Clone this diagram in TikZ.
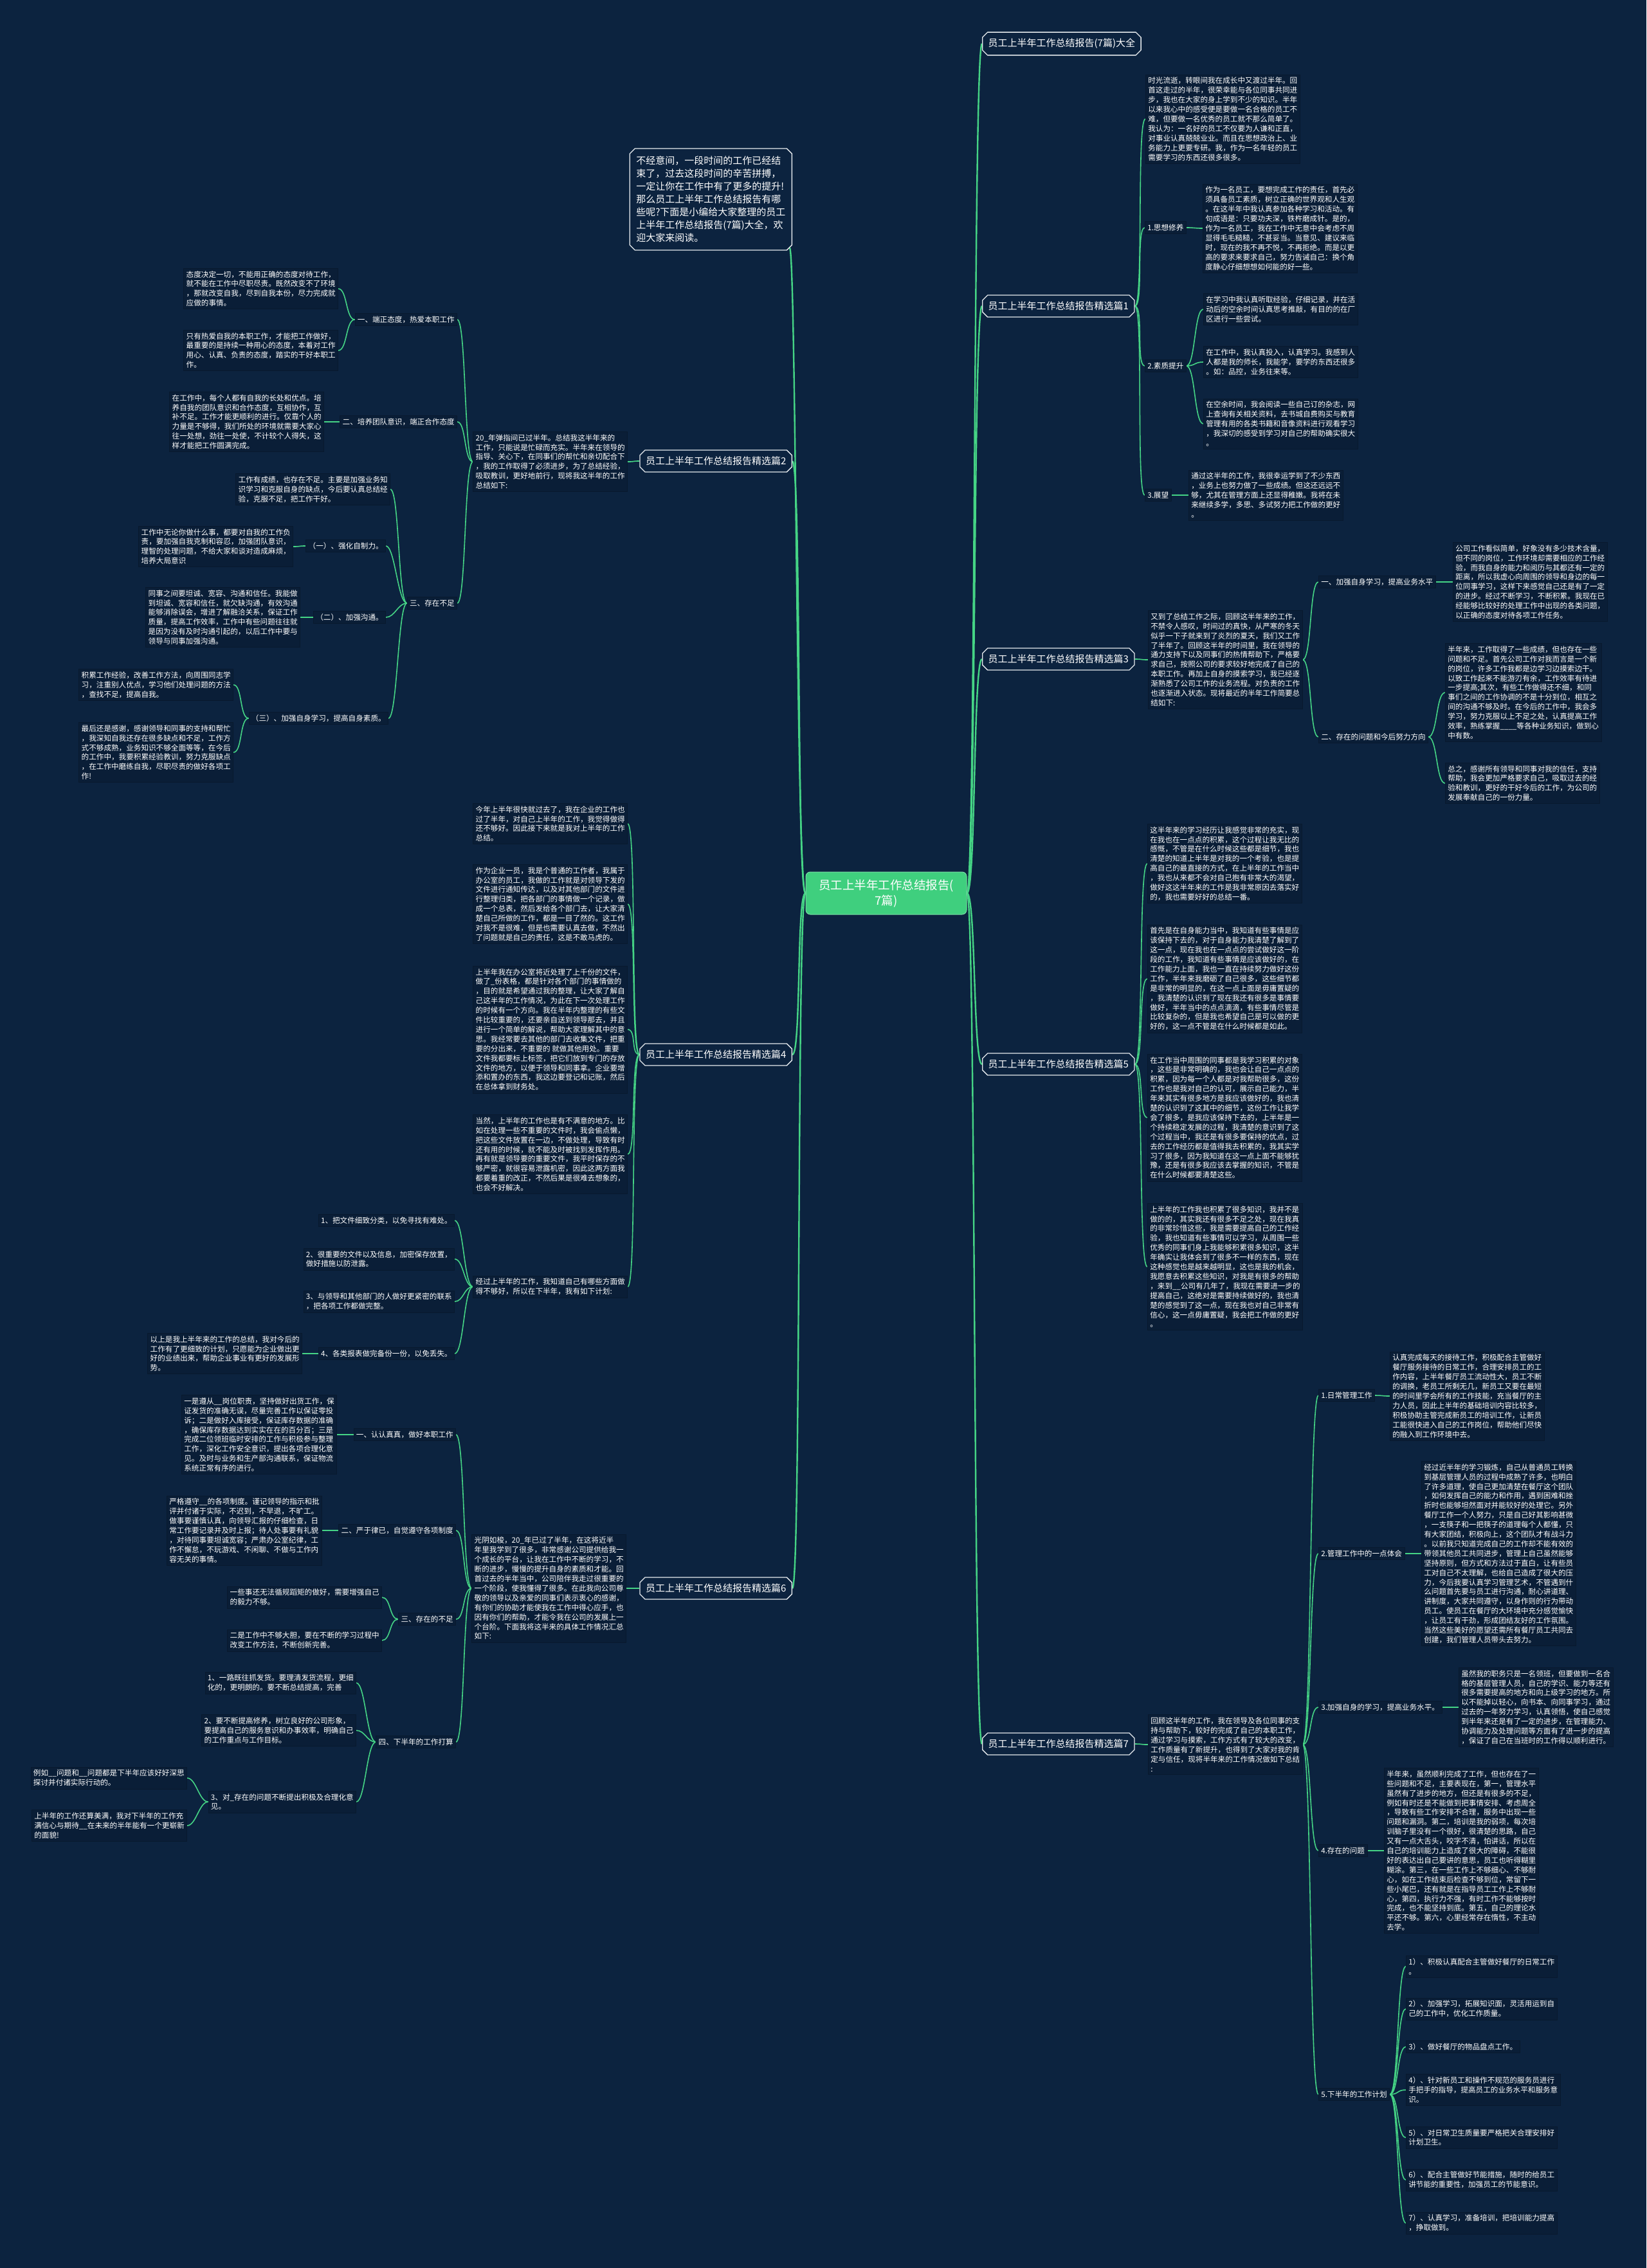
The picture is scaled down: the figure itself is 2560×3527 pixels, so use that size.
\documentclass[tikz,border=0pt]{standalone}
\usepackage{fontspec}
\setmainfont{Noto Sans CJK SC}
\usetikzlibrary{shapes.misc}
\definecolor{bg}{HTML}{0C233F}
\definecolor{boxbg}{HTML}{0A1E37}
\definecolor{boxln}{HTML}{08192E}
\definecolor{gr}{HTML}{45D485}
\definecolor{ctrfill}{HTML}{3FCF7E}
\definecolor{brline}{HTML}{E6EAEE}
\newcommand\fsS{\fontsize{11.6}{14.9}\selectfont}
\newcommand\fsB{\fontsize{15}{18}\selectfont}
\newcommand\fsI{\fontsize{15}{20}\selectfont}
\newcommand\fsC{\fontsize{18.5}{24}\selectfont}
\newcommand\cR[3][con]{\draw[#1] (#2.east) .. controls +(14,0) and +(-14,0) .. (#3.west);}
\newcommand\cL[3][con]{\draw[#1] (#2.west) .. controls +(-14,0) and +(14,0) .. (#3.east);}
\pgfdeclarelayer{back}
\pgfdeclarelayer{edges}
\pgfsetlayers{back,edges,main}
\begin{document}
\begin{tikzpicture}[x=1pt,y=-1pt,
  bx/.style={fill=boxbg,draw=boxln,line width=0.6pt,text=white,font=\fsS,inner sep=4pt,align=left},
  brn/.style={chamfered rectangle,chamfered rectangle xsep=4pt,chamfered rectangle ysep=4pt,draw=brline,line width=1.3pt,fill=bg,text=white,font=\fsB,inner xsep=5pt,inner ysep=6pt},
  intro/.style={brn,font=\fsI,align=left,inner xsep=6pt,inner ysep=8pt},
  ctr/.style={rounded corners=7pt,fill=ctrfill,draw=ctrfill!70!white,line width=1pt,text=white,font=\fsC,align=center,minimum width=250pt,minimum height=66pt},
  con/.style={draw=gr,line width=1.6pt},
  spine/.style={draw=gr,line width=2.4pt}]
\begin{pgfonlayer}{back}
\fill[bg] (0,0) rectangle (2560,3527);
\end{pgfonlayer}
\useasboundingbox (0,0) rectangle (2560,3527);

% center
\node[ctr] (c) at (1378,1389) {员工上半年工作总结报告(\\7篇)};

% ================= RIGHT SIDE =================
\node[brn,anchor=west] (r0) at (1527,68) {员工上半年工作总结报告(7篇)大全};
\node[brn,anchor=west] (r1) at (1527,476) {员工上半年工作总结报告精选篇1};
\node[brn,anchor=west] (r3) at (1527,1025) {员工上半年工作总结报告精选篇3};
\node[brn,anchor=west] (r5) at (1527,1655) {员工上半年工作总结报告精选篇5};
\node[brn,anchor=west] (r7) at (1527,2712) {员工上半年工作总结报告精选篇7};

% --- 篇1
\node[bx,anchor=west] (r1a) at (1781,185) {时光流逝，转眼间我在成长中又渡过半年。回\\首这走过的半年，很荣幸能与各位同事共同进\\步，我也在大家的身上学到不少的知识。半年\\以来我心中的感受便是要做一名合格的员工不\\难，但要做一名优秀的员工就不那么简单了。\\我认为：一名好的员工不仅要为人谦和正直，\\对事业认真兢兢业业。而且在思想政治上、业\\务能力上更要专研。我，作为一名年轻的员工\\需要学习的东西还很多很多。};
\node[bx,anchor=west] (r1b) at (1780,354) {1.思想修养};
\node[bx,anchor=west] (r1b1) at (1870,355) {作为一名员工，要想完成工作的责任，首先必\\须具备员工素质，树立正确的世界观和人生观\\。在这半年中我认真参加各种学习和活动。有\\句成语是：只要功夫深，铁杵磨成针。是的，\\作为一名员工，我在工作中无意中会考虑不周\\显得毛毛糙糙，不甚妥当。当意见、建议来临\\时，现在的我不再不悦，不再拒绝。而是以更\\高的要求来要求自己，努力告诫自己：换个角\\度静心仔细想想如何能的好一些。};
\node[bx,anchor=west] (r1c) at (1780,569) {2.素质提升};
\node[bx,anchor=west] (r1c1) at (1871,481) {在学习中我认真听取经验，仔细记录，并在活\\动后的空余时间认真思考推敲，有目的的在厂\\区进行一些尝试。};
\node[bx,anchor=west] (r1c2) at (1871,563) {在工作中，我认真投入，认真学习。我感到人\\人都是我的师长，我能学，要学的东西还很多\\。如：品控，业务往来等。};
\node[bx,anchor=west] (r1c3) at (1871,659) {在空余时间，我会阅读一些自己订的杂志，网\\上查询有关相关资料，去书城自费购买与教育\\管理有用的各类书籍和音像资料进行观看学习\\，我深切的感受到学习对自己的帮助确实很大\\。};
\node[bx,anchor=west] (r1d) at (1780,770) {3.展望};
\node[bx,anchor=west] (r1d1) at (1848,770) {通过这半年的工作，我很幸运学到了不少东西\\，业务上也努力做了一些成绩。但这还远远不\\够，尤其在管理方面上还显得稚嫩。我将在未\\来继续多学，多思、多试努力把工作做的更好\\。};

% --- 篇3
\node[bx,anchor=west] (r3p) at (1785,1026) {又到了总结工作之际，回顾这半年来的工作，\\不禁令人感叹，时间过的真快，从严寒的冬天\\似乎一下子就来到了炎烈的夏天，我们又工作\\了半年了。回顾这半年的时间里，我在领导的\\通力支持下以及同事们的热情帮助下，严格要\\求自己，按照公司的要求较好地完成了自己的\\本职工作。再加上自身的摸索学习，我已经逐\\渐熟悉了公司工作的业务流程。对负责的工作\\也逐渐进入状态。现将最近的半年工作简要总\\结如下:};
\node[bx,anchor=west] (r3a) at (2050,905) {一、加强自身学习，提高业务水平};
\node[bx,anchor=west] (r3a1) at (2259,905) {公司工作看似简单，好象没有多少技术含量，\\但不同的岗位，工作环境却需要相应的工作经\\验，而我自身的能力和阅历与其都还有一定的\\距离，所以我虚心向周围的领导和身边的每一\\位同事学习，这样下来感觉自己还是有了一定\\的进步。经过不断学习，不断积累。我现在已\\经能够比较好的处理工作中出现的各类问题，\\以正确的态度对待各项工作任务。};
\node[bx,anchor=west] (r3b) at (2050,1146) {二、存在的问题和今后努力方向};
\node[bx,anchor=west] (r3b1) at (2247,1077) {半年来，工作取得了一些成绩，但也存在一些\\问题和不足。首先公司工作对我而言是一个新\\的岗位，许多工作我都是边学习边摸索边干。\\以致工作起来不能游刃有余，工作效率有待进\\一步提高;其次，有些工作做得还不细，和同\\事们之间的工作协调的不是十分到位，相互之\\间的沟通不够及时。在今后的工作中，我会多\\学习，努力克服以上不足之处，认真提高工作\\效率，熟练掌握\_\_\_\_等各种业务知识，做到心\\中有数。};
\node[bx,anchor=west] (r3b2) at (2247,1218) {总之，感谢所有领导和同事对我的信任，支持\\帮助，我会更加严格要求自己，吸取过去的经\\验和教训，更好的干好今后的工作，为公司的\\发展奉献自己的一份力量。};

% --- 篇5
\node[bx,anchor=west] (r5a) at (1784,1343) {这半年来的学习经历让我感觉非常的充实，现\\在我也在一点点的积累，这个过程让我无比的\\感慨，不管是在什么时候这些都是细节，我也\\清楚的知道上半年是对我的一个考验，也是提\\高自己的最直接的方式，在上半年的工作当中\\，我也从来都不会对自己抱有非常大的渴望，\\做好这这半年来的工作是我非常原因去落实好\\的，我也需要好好的总结一番。};
\node[bx,anchor=west] (r5b) at (1784,1522) {首先是在自身能力当中，我知道有些事情是应\\该保持下去的，对于自身能力我清楚了解到了\\这一点，现在我也在一点点的尝试做好这一阶\\段的工作，我知道有些事情是应该做好的，在\\工作能力上面，我也一直在持续努力做好这份\\工作，半年来我磨砺了自己很多，这些细节都\\是非常的明显的，在这一点上面是毋庸置疑的\\，我清楚的认识到了现在我还有很多是事情要\\做好，半年当中的点点滴滴，有些事情尽管是\\比较复杂的，但是我也希望自己是可以做的更\\好的，这一点不管是在什么时候都是如此。};
\node[bx,anchor=west] (r5c) at (1784,1738) {在工作当中周围的同事都是我学习积累的对象\\，这些是非常明确的，我也会让自己一点点的\\积累，因为每一个人都是对我帮助很多，这份\\工作也是我对自己的认可，展示自己能力，半\\年来其实有很多地方是我应该做好的，我也清\\楚的认识到了这其中的细节，这份工作让我学\\会了很多，是我应该保持下去的，上半年是一\\个持续稳定发展的过程，我清楚的意识到了这\\个过程当中，我还是有很多要保持的优点，过\\去的工作经历都是值得我去积累的，我其实学\\习了很多，因为我知道在这一点上面不能够犹\\豫，还是有很多我应该去掌握的知识，不管是\\在什么时候都要清楚这些。};
\node[bx,anchor=west] (r5d) at (1784,1970) {上半年的工作我也积累了很多知识，我并不是\\做的的，其实我还有很多不足之处，现在我真\\的非常珍惜这些，我是需要提高自己的工作经\\验，我也知道有些事情可以学习，从周围一些\\优秀的同事们身上我能够积累很多知识，这半\\年确实让我体会到了很多不一样的东西，现在\\这种感觉也是越来越明显，这也是我的机会，\\我愿意去积累这些知识，对我是有很多的帮助\\，来到\_\_公司有几年了，我现在需要进一步的\\提高自己，这绝对是需要持续做好的，我也清\\楚的感觉到了这一点，现在我也对自己非常有\\信心，这一点毋庸置疑，我会把工作做的更好\\。};

% --- 篇7
\node[bx,anchor=west] (r7p) at (1785,2713) {回顾这半年的工作，我在领导及各位同事的支\\持与帮助下，较好的完成了自己的本职工作，\\通过学习与摸索，工作方式有了较大的改变，\\工作质量有了新提升，也得到了大家对我的肯\\定与信任，现将半年来的工作情况做如下总结\\:};
\node[bx,anchor=west] (r7a) at (2050,2170) {1.日常管理工作};
\node[bx,anchor=west] (r7a1) at (2161,2171) {认真完成每天的接待工作，积极配合主管做好\\餐厅服务接待的日常工作，合理安排员工的工\\作内容，上半年餐厅员工流动性大，员工不断\\的调换，老员工所剩无几，新员工又要在最短\\的时间里学会所有的工作技能，充当餐厅的主\\力人员，因此上半年的基础培训内容比较多，\\积极协助主管完成新员工的培训工作，让新员\\工能很快进入自己的工作岗位，帮助他们尽快\\的融入到工作环境中去。};
\node[bx,anchor=west] (r7b) at (2050,2416) {2.管理工作中的一点体会};
\node[bx,anchor=west] (r7b1) at (2210,2416) {经过近半年的学习锻炼，自己从普通员工转换\\到基层管理人员的过程中成熟了许多，也明白\\了许多道理，使自己更加清楚在餐厅这个团队\\，如何发挥自己的能力和作用，遇到困难和挫\\折时也能够坦然面对并能较好的处理它。另外\\餐厅工作一个人努力，只是自己好其影响甚微\\，一支筷子和一把筷子的道理每个人都懂，只\\有大家团结，积极向上，这个团队才有战斗力\\。以前我只知道完成自己的工作却不能有效的\\带领其他员工共同进步，管理上自己虽然能够\\坚持原则，但方式和方法过于直白，让有些员\\工对自己不太理解，也给自己造成了很大的压\\力，今后我要认真学习管理艺术，不管遇到什\\么问题首先要与员工进行沟通，耐心讲道理、\\讲制度，大家共同遵守，以身作则的行为带动\\员工。使员工在餐厅的大环境中充分感觉愉快\\，让员工有干劲，形成团结友好的工作氛围。\\当然这些美好的愿望还需所有餐厅员工共同去\\创建，我们管理人员带头去努力。};
\node[bx,anchor=west] (r7c) at (2050,2655) {3.加强自身的学习，提高业务水平。};
\node[bx,anchor=west] (r7c1) at (2268,2655) {虽然我的职务只是一名领班，但要做到一名合\\格的基层管理人员，自己的学识、能力等还有\\很多需要提高的地方和向上级学习的地方。所\\以不能掉以轻心，向书本、向同事学习，通过\\过去的一年努力学习，认真领悟，使自己感觉\\到半年来还是有了一定的进步，在管理能力、\\协调能力及处理问题等方面有了进一步的提高\\，保证了自己在当班时的工作得以顺利进行。};
\node[bx,anchor=west] (r7d) at (2050,2878) {4.存在的问题};
\node[bx,anchor=west] (r7d1) at (2152,2878) {半年来，虽然顺利完成了工作，但也存在了一\\些问题和不足，主要表现在，第一，管理水平\\虽然有了进步的地方，但还是有很多的不足，\\例如有时还是不能做到把事情安排、考虑周全\\，导致有些工作安排不合理，服务中出现一些\\问题和漏洞。第二，培训是我的弱项，每次培\\训脑子里没有一个很好，很清楚的思路，自己\\又有一点大舌头，咬字不清，怕讲话，所以在\\自己的培训能力上造成了很大的障碍，不能很\\好的表达出自己要讲的意思，员工也听得糊里\\糊涂。第三，在一些工作上不够细心、不够耐\\心，如在工作结束后检查不够到位，常留下一\\些小尾巴，还有就是在指导员工工作上不够耐\\心，第四，执行力不强，有时工作不能够按时\\完成，也不能坚持到底。第五，自己的理论水\\平还不够。第六，心里经常存在惰性，不主动\\去学。};
\node[bx,anchor=west] (r7e) at (2050,3257) {5.下半年的工作计划};
\node[bx,anchor=west] (e1) at (2186,3058) {1）、积极认真配合主管做好餐厅的日常工作\\。};
\node[bx,anchor=west] (e2) at (2186,3124) {2）、加强学习，拓展知识面，灵活用运到自\\己的工作中，优化工作质量。};
\node[bx,anchor=west] (e3) at (2186,3183) {3）、做好餐厅的物品盘点工作。};
\node[bx,anchor=west] (e4) at (2186,3250) {4）、针对新员工和操作不规范的服务员进行\\手把手的指导，提高员工的业务水平和服务意\\识。};
\node[bx,anchor=west] (e5) at (2186,3324) {5）、对日常卫生质量要严格把关合理安排好\\计划卫生。};
\node[bx,anchor=west] (e6) at (2186,3390) {6）、配合主管做好节能措施，随时的给员工\\讲节能的重要性，加强员工的节能意识。};
\node[bx,anchor=west] (e7) at (2186,3457) {7）、认真学习，准备培训，把培训能力提高\\，挣取做到。};

% ================= LEFT SIDE =================
\node[intro,anchor=east] (in) at (1232,310) {不经意间，一段时间的工作已经结\\束了，过去这段时间的辛苦拼搏，\\一定让你在工作中有了更多的提升!\\那么员工上半年工作总结报告有哪\\些呢?下面是小编给大家整理的员工\\上半年工作总结报告(7篇)大全，欢\\迎大家来阅读。};
\node[brn,anchor=east] (r2) at (1232,717) {员工上半年工作总结报告精选篇2};
\node[brn,anchor=east] (r4) at (1232,1640) {员工上半年工作总结报告精选篇4};
\node[brn,anchor=east] (r6) at (1232,2470) {员工上半年工作总结报告精选篇6};

% --- 篇2
\node[bx,anchor=east] (r2p) at (976,718) {20\_年弹指间已过半年。总结我这半年来的\\工作，只能说是忙碌而充实。半年来在领导的\\指导、关心下，在同事们的帮忙和亲切配合下\\，我的工作取得了必须进步，为了总结经验，\\吸取教训，更好地前行，现将我这半年的工作\\总结如下:};
\node[bx,anchor=east] (r2a) at (711,497) {一、端正态度，热爱本职工作};
\node[bx,anchor=east] (r2a1) at (526,449) {态度决定一切，不能用正确的态度对待工作，\\就不能在工作中尽职尽责。既然改变不了环境\\，那就改变自我，尽到自我本份，尽力完成就\\应做的事情。};
\node[bx,anchor=east] (r2a2) at (526,545) {只有热爱自我的本职工作，才能把工作做好，\\最重要的是持续一种用心的态度，本着对工作\\用心、认真、负责的态度，踏实的干好本职工\\作。};
\node[bx,anchor=east] (r2b) at (711,656) {二、培养团队意识，端正合作态度};
\node[bx,anchor=east] (r2b1) at (504,656) {在工作中，每个人都有自我的长处和优点。培\\养自我的团队意识和合作态度，互相协作，互\\补不足。工作才能更顺利的进行。仅靠个人的\\力量是不够得，我们所处的环境就需要大家心\\往一处想，劲往一处使，不计较个人得失，这\\样才能把工作圆满完成。};
\node[bx,anchor=east] (r2c) at (711,938) {三、存在不足};
\node[bx,anchor=east] (r2c1) at (607,761) {工作有成绩，也存在不足。主要是加强业务知\\识学习和克服自身的缺点，今后要认真总结经\\验，克服不足，把工作干好。};
\node[bx,anchor=east] (r2c2) at (600,849) {（一）、强化自制力。};
\node[bx,anchor=east] (r2c2a) at (456,850) {工作中无论你做什么事，都要对自我的工作负\\责，要加强自我克制和容忍，加强团队意识，\\理智的处理问题，不给大家和谈对造成麻烦，\\培养大局意识};
\node[bx,anchor=east] (r2c3) at (600,960) {（二）、加强沟通。};
\node[bx,anchor=east] (r2c3a) at (467,960) {同事之间要坦诚、宽容、沟通和信任。我能做\\到坦诚、宽容和信任，就欠缺沟通，有效沟通\\能够消除误会，增进了解融洽关系，保证工作\\质量，提高工作效率，工作中有些问题往往就\\是因为没有及时沟通引起的，以后工作中要与\\领导与同事加强沟通。};
\node[bx,anchor=east] (r2c4) at (604,1117) {（三）、加强自身学习，提高自身素质。};
\node[bx,anchor=east] (r2c4a) at (363,1065) {积累工作经验，改善工作方法，向周围同志学\\习，注重别人优点，学习他们处理问题的方法\\，查找不足，提高自我。};
\node[bx,anchor=east] (r2c4b) at (363,1170) {最后还是感谢，感谢领导和同事的支持和帮忙\\，我深知自我还存在很多缺点和不足，工作方\\式不够成熟，业务知识不够全面等等，在今后\\的工作中，我要积累经验教训，努力克服缺点\\，在工作中磨练自我，尽职尽责的做好各项工\\作!};

% --- 篇4
\node[bx,anchor=east] (r4a) at (976,1281) {今年上半年很快就过去了，我在企业的工作也\\过了半年，对自己上半年的工作，我觉得做得\\还不够好。因此接下来就是我对上半年的工作\\总结。};
\node[bx,anchor=east] (r4b) at (976,1406) {作为企业一员，我是个普通的工作者，我属于\\办公室的员工，我做的工作就是对领导下发的\\文件进行通知传达，以及对其他部门的文件进\\行整理归类，把各部门的事情做一个记录，做\\成一个总表，然后发给各个部门去，让大家清\\楚自己所做的工作，都是一目了然的。这工作\\对我不是很难，但是也需要认真去做，不然出\\了问题就是自己的责任，这是不敢马虎的。};
\node[bx,anchor=east] (r4c) at (976,1601) {上半年我在办公室将近处理了上千份的文件，\\做了\_份表格，都是针对各个部门的事情做的\\，目的就是希望通过我的整理，让大家了解自\\己这半年的工作情况，为此在下一次处理工作\\的时候有一个方向。我在半年内整理的有些文\\件比较重要的，还要亲自送到领导那去，并且\\进行一个简单的解说，帮助大家理解其中的意\\思。我经常要去其他的部门去收集文件，把重\\要的分出来，不重要的 就做其他用处。重要\\文件我都要标上标签，把它们放到专门的存放\\文件的地方，以便于领导和同事拿。企业要增\\添和置办的东西，我这边要登记和记账，然后\\在总体拿到财务处。};
\node[bx,anchor=east] (r4d) at (976,1795) {当然，上半年的工作也是有不满意的地方。比\\如在处理一些不重要的文件时，我会偷点懒，\\把这些文件放置在一边，不做处理，导致有时\\还有用的时候，就不能及时被找到发挥作用。\\再有就是领导要的重要文件，我平时保存的不\\够严密，就很容易泄露机密，因此这两方面我\\都要着重的改正，不然后果是很难去想象的，\\也会不好解决。};
\node[bx,anchor=east] (r4e) at (976,2001) {经过上半年的工作，我知道自己有哪些方面做\\得不够好，所以在下半年，我有如下计划:};
\node[bx,anchor=east] (r4e1) at (707,1898) {1、把文件细致分类，以免寻找有难处。};
\node[bx,anchor=east] (r4e2) at (707,1958) {2、很重要的文件以及信息，加密保存放置，\\做好措施以防泄露。};
\node[bx,anchor=east] (r4e3) at (707,2024) {3、与领导和其他部门的人做好更紧密的联系\\，把各项工作都做完整。};
\node[bx,anchor=east] (r4e4) at (707,2105) {4、各类报表做完备份一份，以免丢失。};
\node[bx,anchor=east] (r4e4a) at (470,2105) {以上是我上半年来的工作的总结，我对今后的\\工作有了更细致的计划，只愿能为企业做出更\\好的业绩出来，帮助企业事业有更好的发展形\\势。};

% --- 篇6
\node[bx,anchor=east] (r6p) at (974,2470) {光阴如梭，20\_年已过了半年，在这将近半\\年里我学到了很多，非常感谢公司提供给我一\\个成长的平台，让我在工作中不断的学习，不\\断的进步，慢慢的提升自身的素质和才能。回\\首过去的半年当中，公司陪伴我走过很重要的\\一个阶段，使我懂得了很多。在此我向公司尊\\敬的领导以及亲爱的同事们表示衷心的感谢，\\有你们的协助才能使我在工作中得心应手，也\\因有你们的帮助，才能令我在公司的发展上一\\个台阶。下面我将这半来的具体工作情况汇总\\如下:};
\node[bx,anchor=east] (r6a) at (709,2231) {一、认认真真，做好本职工作};
\node[bx,anchor=east] (r6a1) at (524,2231) {一是遵从\_\_岗位职责，坚持做好出货工作，保\\证发货的准确无误，尽量完善工作以保证零投\\诉；二是做好入库接受，保证库存数据的准确\\，确保库存数据达到实实在在的百分百；三是\\完成二位领班临时安排的工作与积极参与整理\\工作，深化工作安全意识，提出各项合理化意\\见。及时与业务和生产部沟通联系，保证物流\\系统正常有序的进行。};
\node[bx,anchor=east] (r6b) at (709,2380) {二、严于律已，自觉遵守各项制度};
\node[bx,anchor=east] (r6b1) at (501,2380) {严格遵守\_\_的各项制度。谨记领导的指示和批\\评并付诸于实际，不迟到，不早退，不旷工。\\做事要谨慎认真，向领导汇报的仔细检查，日\\常工作要记录并及时上报；待人处事要有礼貌\\，对待同事要坦诚宽容；严肃办公室纪律，工\\作不懈怠，不玩游戏、不闲聊、不做与工作内\\容无关的事情。};
\node[bx,anchor=east] (r6c) at (709,2518) {三、存在的不足};
\node[bx,anchor=east] (r6c1) at (594,2484) {一些事还无法循规蹈矩的做好，需要增强自己\\的毅力不够。};
\node[bx,anchor=east] (r6c2) at (594,2551) {二是工作中不够大胆，要在不断的学习过程中\\改变工作方法，不断创新完善。};
\node[bx,anchor=east] (r6d) at (709,2709) {四、下半年的工作打算};
\node[bx,anchor=east] (r6d1) at (554,2617) {1、一路既往抓发货。要理清发货流程，更细\\化的，更明朗的。要不断总结提高，完善};
\node[bx,anchor=east] (r6d2) at (554,2691) {2、要不断提高修养，树立良好的公司形象，\\要提高自己的服务意识和办事效率，明确自己\\的工作重点与工作目标。};
\node[bx,anchor=east] (r6d3) at (554,2802) {3、对\_存在的问题不断提出积极及合理化意\\见。};
\node[bx,anchor=east] (r6d3a) at (291,2765) {例如\_\_问题和\_\_问题都是下半年应该好好深思\\探讨并付诸实际行动的。};
\node[bx,anchor=east] (r6d3b) at (291,2839) {上半年的工作还算美满，我对下半年的工作充\\满信心与期待\_\_在未来的半年能有一个更崭新\\的面貌!};

% ================= CONNECTORS =================
\begin{pgfonlayer}{edges}
\cR[spine]{c}{r0}\cR[spine]{c}{r1}\cR[spine]{c}{r3}\cR[spine]{c}{r5}\cR[spine]{c}{r7}
\draw[spine] (c.west) .. controls +(-14,0) and +(10,0) .. (in.south east);
\cL[spine]{c}{r2}\cL[spine]{c}{r4}\cL[spine]{c}{r6}
% 1
\cR{r1}{r1a}\cR{r1}{r1b}\cR{r1}{r1c}\cR{r1}{r1d}
\cR{r1b}{r1b1}\cR{r1c}{r1c1}\cR{r1c}{r1c2}\cR{r1c}{r1c3}\cR{r1d}{r1d1}
% 3
\cR{r3}{r3p}\cR{r3p}{r3a}\cR{r3p}{r3b}\cR{r3a}{r3a1}\cR{r3b}{r3b1}\cR{r3b}{r3b2}
% 5
\cR{r5}{r5a}\cR{r5}{r5b}\cR{r5}{r5c}\cR{r5}{r5d}
% 7
\cR{r7}{r7p}\cR{r7p}{r7a}\cR{r7p}{r7b}\cR{r7p}{r7c}\cR{r7p}{r7d}\cR{r7p}{r7e}
\cR{r7a}{r7a1}\cR{r7b}{r7b1}\cR{r7c}{r7c1}\cR{r7d}{r7d1}
\cR{r7e}{e1}\cR{r7e}{e2}\cR{r7e}{e3}\cR{r7e}{e4}\cR{r7e}{e5}\cR{r7e}{e6}\cR{r7e}{e7}
% 2
\cL{r2}{r2p}\cL{r2p}{r2a}\cL{r2p}{r2b}\cL{r2p}{r2c}
\cL{r2a}{r2a1}\cL{r2a}{r2a2}\cL{r2b}{r2b1}
\cL{r2c}{r2c1}\cL{r2c}{r2c2}\cL{r2c}{r2c3}\cL{r2c}{r2c4}
\cL{r2c2}{r2c2a}\cL{r2c3}{r2c3a}\cL{r2c4}{r2c4a}\cL{r2c4}{r2c4b}
% 4
\cL{r4}{r4a}\cL{r4}{r4b}\cL{r4}{r4c}\cL{r4}{r4d}\cL{r4}{r4e}
\cL{r4e}{r4e1}\cL{r4e}{r4e2}\cL{r4e}{r4e3}\cL{r4e}{r4e4}\cL{r4e4}{r4e4a}
% 6
\cL{r6}{r6p}\cL{r6p}{r6a}\cL{r6p}{r6b}\cL{r6p}{r6c}\cL{r6p}{r6d}
\cL{r6a}{r6a1}\cL{r6b}{r6b1}\cL{r6c}{r6c1}\cL{r6c}{r6c2}
\cL{r6d}{r6d1}\cL{r6d}{r6d2}\cL{r6d}{r6d3}\cL{r6d3}{r6d3a}\cL{r6d3}{r6d3b}
\end{pgfonlayer}
\end{tikzpicture}
\end{document}
